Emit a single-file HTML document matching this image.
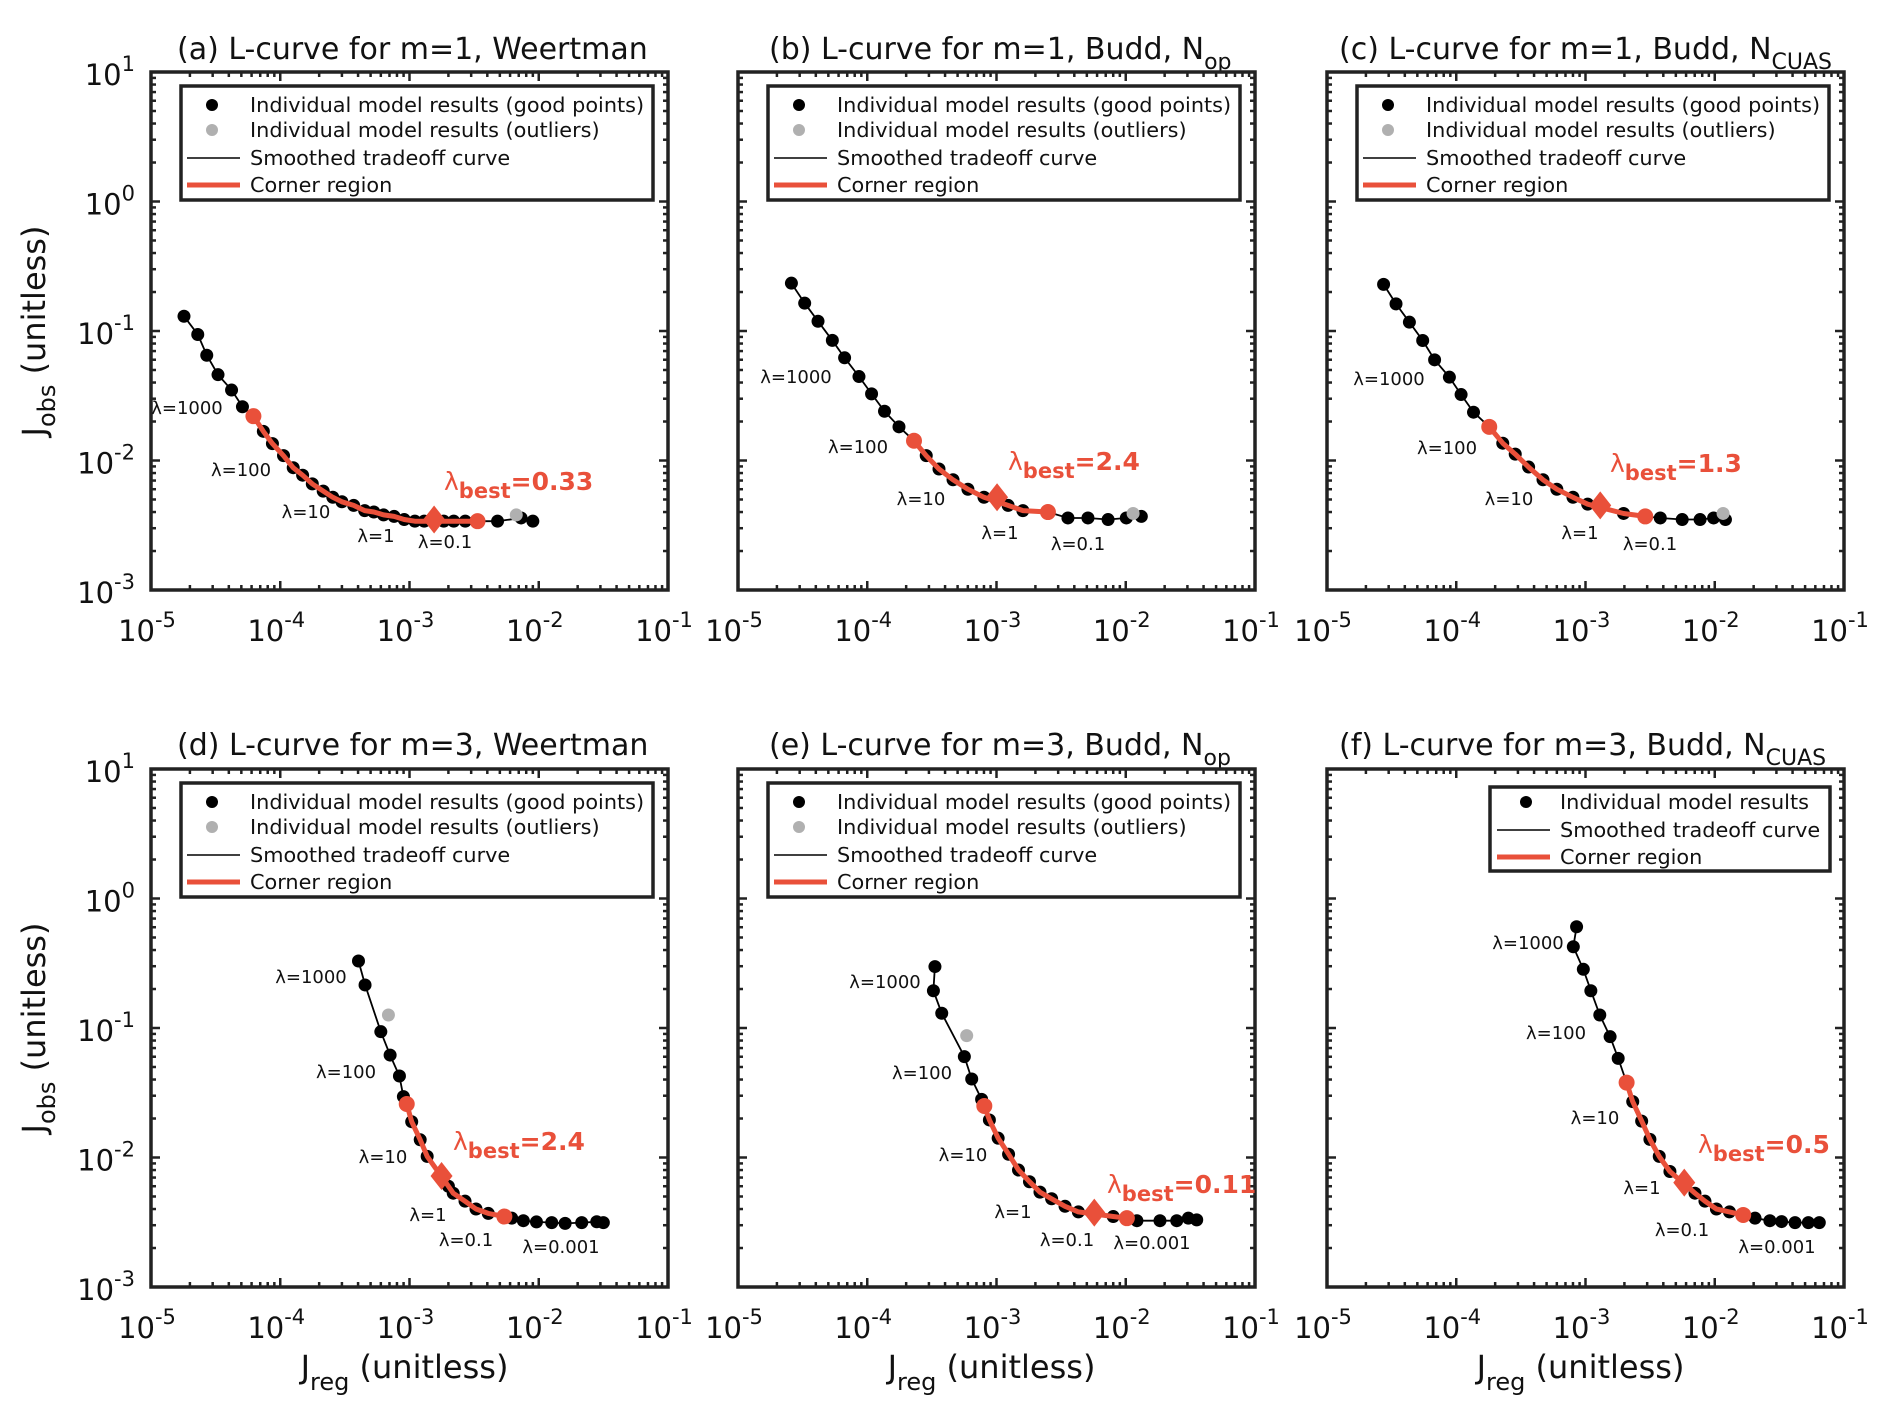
<!DOCTYPE html>
<html><head><meta charset="utf-8"><style>
html,body{margin:0;padding:0;background:#fff;}
svg{display:block;font-family:"DejaVu Sans","Liberation Sans",sans-serif;}
</style></head><body>
<svg id="fig" width="1892" height="1420" viewBox="0 0 1892 1420" xmlns="http://www.w3.org/2000/svg"></svg>
<script>
// ---- data (Jreg, Jobs values) ----
const aJreg=[1.8e-5,2.3e-5,2.7e-5,3.3e-5,4.2e-5,5.1e-5,6.2e-5,7.4e-5,8.7e-5,1.06e-4,1.26e-4,1.49e-4,1.77e-4,2.15e-4,2.55e-4,3.0e-4,3.7e-4,4.5e-4,5.3e-4,6.3e-4,7.6e-4,9.1e-4,1.1e-3,1.3e-3,1.84e-3,2.2e-3,2.7e-3,3.36e-3,4.8e-3,7.3e-3,9.0e-3];
const aJobs=[0.13,0.094,0.065,0.046,0.035,0.026,0.022,0.0168,0.0135,0.0109,0.0088,0.0077,0.0066,0.0058,0.0052,0.0048,0.0045,0.0041,0.0040,0.0038,0.0037,0.0035,0.0034,0.0034,0.0034,0.0034,0.0034,0.0034,0.0034,0.0036,0.0034];
const aCorner=[6,27];
const aBest=[1.55e-3,0.0035];
const aOutJreg=[6.7e-3];
const aOutJobs=[0.0038];
const aBestLabel="0.33";

const bJreg=[2.59e-5,3.28e-5,4.16e-5,5.37e-5,6.68e-5,8.63e-5,1.08e-4,1.36e-4,1.76e-4,2.30e-4,2.86e-4,3.59e-4,4.61e-4,6.01e-4,8.0e-4,1.23e-3,1.60e-3,2.50e-3,3.57e-3,5.1e-3,7.3e-3,1.01e-2,1.32e-2];
const bJobs=[0.234,0.164,0.119,0.0846,0.0621,0.0445,0.0327,0.0240,0.0182,0.0142,0.0109,0.0086,0.0071,0.0060,0.0052,0.0045,0.0041,0.0040,0.0036,0.0036,0.0035,0.0036,0.0037];
const bCorner=[9,17];
const bBest=[1.01e-3,0.0052];
const bOutJreg=[1.14e-2];
const bOutJobs=[0.0039];
const bBestLabel="2.4";

const cJreg=[2.74e-5,3.42e-5,4.34e-5,5.5e-5,6.8e-5,8.85e-5,1.09e-4,1.36e-4,1.80e-4,2.29e-4,2.86e-4,3.63e-4,4.69e-4,6.0e-4,8.0e-4,1.04e-3,1.97e-3,2.9e-3,3.79e-3,5.6e-3,7.7e-3,9.8e-3,1.21e-2];
const cJobs=[0.229,0.162,0.117,0.0845,0.0599,0.0440,0.0323,0.0236,0.0182,0.0136,0.0112,0.0089,0.0071,0.0060,0.0052,0.0046,0.0039,0.0037,0.0036,0.0035,0.0035,0.0036,0.0035];
const cCorner=[8,17];
const cBest=[1.30e-3,0.0045];
const cOutJreg=[1.16e-2];
const cOutJobs=[0.0039];
const cBestLabel="1.3";

const dJreg=[4.03e-4,4.53e-4,6.0e-4,7.08e-4,8.36e-4,8.97e-4,9.52e-4,1.04e-3,1.21e-3,1.37e-3,2.0e-3,2.18e-3,2.69e-3,3.27e-3,4.07e-3,5.42e-3,6.18e-3,7.6e-3,9.6e-3,1.26e-2,1.60e-2,2.15e-2,2.81e-2,3.16e-2];
const dJobs=[0.329,0.215,0.0937,0.0618,0.0426,0.0295,0.0259,0.0189,0.0137,0.0102,0.0060,0.0053,0.0046,0.0040,0.0037,0.0035,0.0034,0.00325,0.00318,0.00314,0.0031,0.00314,0.00319,0.00314];
const dCorner=[6,15];
const dBest=[1.77e-3,0.0072];
const dOutJreg=[6.87e-4];
const dOutJobs=[0.126];
const dBestLabel="2.4";

const eJreg=[3.34e-4,3.25e-4,3.77e-4,5.64e-4,6.43e-4,7.67e-4,8.05e-4,8.81e-4,1.03e-3,1.24e-3,1.48e-3,1.80e-3,2.17e-3,2.67e-3,3.39e-3,4.30e-3,8.0e-3,1.02e-2,1.22e-2,1.84e-2,2.48e-2,3.05e-2,3.54e-2];
const eJobs=[0.298,0.194,0.130,0.0601,0.0404,0.0281,0.0250,0.0195,0.0141,0.0106,0.0080,0.0065,0.0054,0.0048,0.0042,0.0038,0.0035,0.0034,0.00325,0.00325,0.00325,0.0034,0.0033];
const eCorner=[6,17];
const eBest=[5.71e-3,0.00375];
const eOutJreg=[5.88e-4];
const eOutJobs=[0.0873];
const eBestLabel="0.11";

const fJreg=[8.53e-4,8.05e-4,9.62e-4,1.10e-3,1.29e-3,1.55e-3,1.79e-3,2.08e-3,2.32e-3,2.72e-3,3.15e-3,3.72e-3,4.50e-3,7.03e-3,8.40e-3,1.03e-2,1.30e-2,1.66e-2,2.05e-2,2.67e-2,3.29e-2,4.18e-2,5.30e-2,6.44e-2];
const fJobs=[0.605,0.424,0.284,0.194,0.126,0.0857,0.0583,0.0379,0.0270,0.0191,0.0138,0.0102,0.0078,0.0053,0.0046,0.0040,0.0038,0.0036,0.0034,0.00325,0.0032,0.00314,0.00314,0.00314];
const fCorner=[7,17];
const fBest=[5.81e-3,0.0064];
const fOutJreg=[];
const fOutJobs=[];
const fBestLabel="0.5";

const xTickExps=[-5,-4,-3,-2,-1];
const yTickExps=[1,0,-1,-2,-3];
const lambdaLabelsTop=["λ=1000","λ=100","λ=10","λ=1","λ=0.1"];
const lambdaLabelsBottom=["λ=1000","λ=100","λ=10","λ=1","λ=0.1","λ=0.001"];

const RED="#e9503a";
const NS="http://www.w3.org/2000/svg";
const svg=document.getElementById('fig');
function mk(tag,attrs,parent){const e=document.createElementNS(NS,tag);for(const k in attrs)e.setAttribute(k,attrs[k]);(parent||svg).appendChild(e);return e;}

const panels=[
 {id:'a',L:151,T:72,jr:aJreg,jo:aJobs,cor:aCorner,best:aBest,ox:aOutJreg,oy:aOutJobs,bl:aBestLabel,
  title:"(a) L-curve for m=1, Weertman",sub:"",tx:177,ty:59,legend:4,xlab:false,ylab:true,
  lam:lambdaLabelsTop,lampos:[[187,414],[241,476],[306,518],[376,542],[445,548]],blpos:[444,490]},
 {id:'b',L:738,T:72,jr:bJreg,jo:bJobs,cor:bCorner,best:bBest,ox:bOutJreg,oy:bOutJobs,bl:bBestLabel,
  title:"(b) L-curve for m=1, Budd, N",sub:"op",tx:769,ty:59,legend:4,xlab:false,ylab:false,
  lam:lambdaLabelsTop,lampos:[[796,383],[858,453],[921,505],[1000,539],[1078,550]],blpos:[1008,470]},
 {id:'c',L:1327,T:72,jr:cJreg,jo:cJobs,cor:cCorner,best:cBest,ox:cOutJreg,oy:cOutJobs,bl:cBestLabel,
  title:"(c) L-curve for m=1, Budd, N",sub:"CUAS",tx:1339,ty:59,legend:4,xlab:false,ylab:false,
  lam:lambdaLabelsTop,lampos:[[1389,385],[1447,454],[1509,505],[1580,539],[1650,550]],blpos:[1610,472]},
 {id:'d',L:151,T:769,jr:dJreg,jo:dJobs,cor:dCorner,best:dBest,ox:dOutJreg,oy:dOutJobs,bl:dBestLabel,
  title:"(d) L-curve for m=3, Weertman",sub:"",tx:177,ty:755,legend:4,xlab:true,ylab:true,
  lam:lambdaLabelsBottom,lampos:[[311,983],[346,1078],[383,1163],[428,1221],[466,1246],[561,1253]],blpos:[453,1150]},
 {id:'e',L:738,T:769,jr:eJreg,jo:eJobs,cor:eCorner,best:eBest,ox:eOutJreg,oy:eOutJobs,bl:eBestLabel,
  title:"(e) L-curve for m=3, Budd, N",sub:"op",tx:769,ty:755,legend:4,xlab:true,ylab:false,
  lam:lambdaLabelsBottom,lampos:[[885,988],[922,1079],[963,1161],[1013,1218],[1067,1246],[1152,1249]],blpos:[1107,1193]},
 {id:'f',L:1327,T:769,jr:fJreg,jo:fJobs,cor:fCorner,best:fBest,ox:fOutJreg,oy:fOutJobs,bl:fBestLabel,
  title:"(f) L-curve for m=3, Budd, N",sub:"CUAS",tx:1339,ty:755,legend:3,xlab:true,ylab:false,
  lam:lambdaLabelsBottom,lampos:[[1528,949],[1556,1039],[1595,1124],[1642,1194],[1682,1236],[1777,1253]],blpos:[1698,1153]}
];
const W=517,H=518;

panels.forEach(p=>{
  const g=mk('g',{});
  
  
  const xs=v=>p.L+(Math.log10(v)+5)/4*W;
  const ys=v=>p.T+(1-Math.log10(v))/4*H;
  const R=p.L+W,B=p.T+H;

  const t=mk('text',{x:p.tx,y:p.ty,'font-size':30,fill:'#111'},g);
  
  
  t.textContent=p.title;
  if(p.sub){const ts=mk('tspan',{dy:10,'font-size':22},t);ts.textContent=p.sub;}

  const tg=mk('g',{stroke:'#222','stroke-width':2.5},g);
  
  
  for(let e=-5;e<=-1;e++){for(let m=1;m<10;m++){
    if(e===-1&&m>1)break;
    const x=xs(m*Math.pow(10,e));const len=m===1?9:5;
    mk('line',{x1:x,y1:B,x2:x,y2:B-len},tg);mk('line',{x1:x,y1:p.T,x2:x,y2:p.T+len},tg);}}
  for(let e=-3;e<=1;e++){for(let m=1;m<10;m++){
    if(e===1&&m>1)break;
    const y=ys(m*Math.pow(10,e));const len=m===1?9:5;
    mk('line',{x1:p.L,y1:y,x2:p.L+len,y2:y},tg);mk('line',{x1:R,y1:y,x2:R-len,y2:y},tg);}}
  xTickExps.forEach(e=>{
    const tx=mk('text',{x:xs(Math.pow(10,e))-4,y:B+51,'font-size':29,'text-anchor':'middle',fill:'#111'},g);
    
    
    tx.textContent='10';const s=mk('tspan',{dy:-14,'font-size':21},tx);s.textContent=String(e);
  });
  if(p.ylab){
    yTickExps.forEach(e=>{
      const tx=mk('text',{x:p.L-16,y:ys(Math.pow(10,e))+13,'font-size':29,'text-anchor':'end',fill:'#111'},g);
      
      
      tx.textContent='10';const s=mk('tspan',{dy:-14,'font-size':21},tx);s.textContent=String(e);
    });
  }
  const fr=mk('rect',{x:p.L,y:p.T,width:W,height:H,fill:'none',stroke:'#222','stroke-width':3.5},g);
  
  

  const pts=p.jr.map((v,i)=>xs(v).toFixed(1)+','+ys(p.jo[i]).toFixed(1)).join(' ');
  const cl=mk('polyline',{points:pts,fill:'none',stroke:'#000','stroke-width':1.8},g);
  
  
  p.jr.forEach((v,i)=>{
    const c=mk('circle',{cx:xs(v),cy:ys(p.jo[i]),r:6.5,fill:'#000'},g);
    
    
  });
  p.ox.forEach((v,i)=>{
    const c=mk('circle',{cx:xs(v),cy:ys(p.oy[i]),r:6.5,fill:'#b0b0b0'},g);
    
    
  });
  const cp=[];for(let i=p.cor[0];i<=p.cor[1];i++)cp.push(xs(p.jr[i]).toFixed(1)+','+ys(p.jo[i]).toFixed(1));
  const cr=mk('polyline',{points:cp.join(' '),fill:'none',stroke:RED,'stroke-width':5,'stroke-linejoin':'round'},g);
  
  
  [p.cor[0],p.cor[1]].forEach(i=>{
    const c=mk('circle',{cx:xs(p.jr[i]),cy:ys(p.jo[i]),r:8,fill:RED},g);
    
    
  });
  const bx=xs(p.best[0]),by=ys(p.best[1]);
  const dm=mk('polygon',{points:`${bx},${by-14} ${bx+11},${by} ${bx},${by+14} ${bx-11},${by}`,fill:RED},g);
  
  
  const bt=mk('text',{x:p.blpos[0],y:p.blpos[1],'font-size':25,'font-weight':'bold',fill:RED},g);
  
  
  const b1=mk('tspan',{'font-weight':'normal'},bt);b1.textContent='λ';
  const b2=mk('tspan',{dy:8,'font-size':21},bt);b2.textContent='best';
  const b3=mk('tspan',{dy:-8},bt);b3.textContent='='+p.bl;

  p.lam.forEach((s,i)=>{
    const lt=mk('text',{x:p.lampos[i][0],y:p.lampos[i][1],'font-size':18,'text-anchor':'middle',fill:'#111'},g);
    
    
    lt.textContent=s;
  });

  const lg=mk('g',{},g);
  
  
  let lx,ly,lw,lh,rows,mx,txx,l1,l2,entries;
  if(p.legend===4){
    lx=p.L+30;ly=p.T+14;lw=472;lh=114;rows=[p.T+33,p.T+58,p.T+86,p.T+113];
    mx=p.L+61;txx=p.L+99;l1=p.L+36;l2=p.L+89;
    entries=[['dot','#000','Individual model results (good points)'],['dot','#b0b0b0','Individual model results (outliers)'],['line','#000','Smoothed tradeoff curve'],['thick',RED,'Corner region']];
  }else{
    lx=p.L+163;ly=p.T+18;lw=340;lh=84;rows=[p.T+33,p.T+61,p.T+88];
    mx=p.L+199;txx=p.L+233;l1=p.L+170;l2=p.L+223;
    entries=[['dot','#000','Individual model results'],['line','#000','Smoothed tradeoff curve'],['thick',RED,'Corner region']];
  }
  mk('rect',{x:lx,y:ly,width:lw,height:lh,fill:'#fff',stroke:'#222','stroke-width':3.5},lg);
  entries.forEach((en,i)=>{
    const y=rows[i];
    const le=mk('g',{},lg);
    
    
    if(en[0]==='dot')mk('circle',{cx:mx,cy:y,r:6,fill:en[1]},le);
    else mk('line',{x1:l1,y1:y,x2:l2,y2:y,stroke:en[1],'stroke-width':en[0]==='thick'?5:1.6},le);
    const tt=mk('text',{x:txx,y:y+7,'font-size':20.8,fill:'#111'},le);
    tt.textContent=en[2];
  });

  if(p.ylab){
    const cy=p.T+H/2;
    const yt=mk('text',{x:0,y:0,'font-size':32,'text-anchor':'middle',fill:'#111',transform:`translate(45,${cy}) rotate(-90)`},g);
    
    
    yt.textContent='J';const s=mk('tspan',{dy:10,'font-size':24},yt);s.textContent='obs';
    const s2=mk('tspan',{dy:-10},yt);s2.textContent=' (unitless)';
  }
  if(p.xlab){
    const xt=mk('text',{x:p.L+W/2-5,y:1378,'font-size':32,'text-anchor':'middle',fill:'#111'},g);
    
    
    xt.textContent='J';const s=mk('tspan',{dy:12,'font-size':24},xt);s.textContent='reg';
    const s2=mk('tspan',{dy:-12},xt);s2.textContent=' (unitless)';
  }
});
</script>
</body></html>
